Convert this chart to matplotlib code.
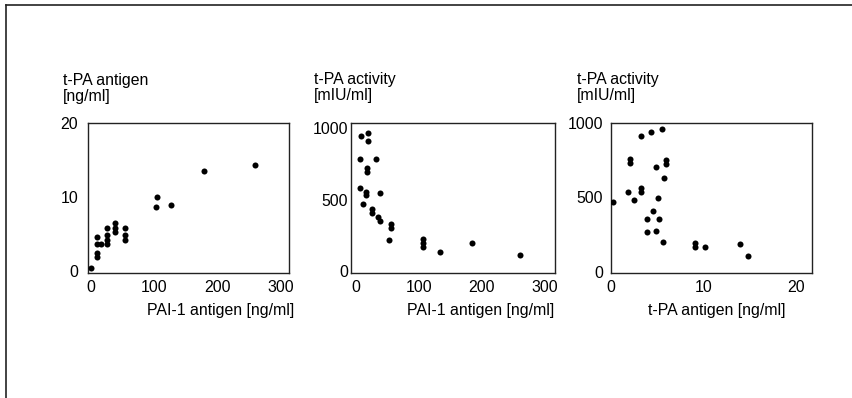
import matplotlib
matplotlib.use("Agg")
import matplotlib.pyplot as plt
from matplotlib.lines import Line2D

plt.rcParams['font.family'] = ['Liberation Sans', 'DejaVu Sans']
plt.rcParams['font.size'] = 11.4

# panel 1: PAI-1 antigen vs t-PA antigen
pai1_a = [0, 9.5, 9.5, 9.5, 9.5, 17, 25, 25, 25, 25, 38, 38, 38, 54, 54, 54,
          103, 105, 126, 179, 259]
tpa_ag_a = [0.4, 1.95, 2.5, 3.65, 4.6, 3.65, 5.85, 4.8, 4.2, 3.65, 6.45, 5.85, 5.3,
            5.85, 4.8, 4.15, 8.65, 10.0, 8.9, 13.5, 14.3]

# panel 2: PAI-1 antigen vs t-PA activity
pai1_b = [8, 19.5, 19.5, 6.5, 31.5, 17, 17, 6.5, 15.5, 15.5, 38, 10.5, 25, 25,
          34.5, 38, 55, 55, 52.5, 107, 107, 107, 133, 184, 260]
tpa_act_b = [944, 967, 909, 783, 783, 722, 694, 582, 555, 531, 548, 469, 434, 403,
             380, 350, 329, 298, 217, 224, 198, 170, 131, 196, 112]

# panel 3: t-PA antigen vs t-PA activity
tpa_ag_c = [0.2, 1.85, 2.05, 2.05, 2.5, 3.2, 3.2, 3.2, 3.85, 3.85, 4.35, 4.5, 4.85,
            4.85, 5.1, 5.2, 5.5, 5.65, 5.75, 5.9, 5.9, 9.05, 9.05, 10.2, 13.9, 14.8]
tpa_act_c = [471, 538, 758, 731, 482, 913, 565, 536, 354, 267, 940, 408, 704, 274,
             498, 354, 958, 200, 630, 753, 726, 193, 166, 166, 186, 106]

W, H = 852, 398
fig = plt.figure(figsize=(W / 100, H / 100), dpi=100)

def px(x, y):
    return x / W, 1 - y / H

panels = [
    dict(rect=(88, 289), x=pai1_a, y=tpa_ag_a, xlim=(-4.3, 313), ylim=(-0.27, 20),
         xt=[0, 100, 200, 300], yt=[0, 10, 20], ypad=7,
         ylab=("t-PA antigen", "[ng/ml]"), ylx=63, ylab_y=(85, 101),
         xlab="PAI-1 antigen [ng/ml]", xlx=147),
    dict(rect=(351, 555), x=pai1_b, y=tpa_act_b, xlim=(-7.9, 316), ylim=(-14, 1035),
         xt=[0, 100, 200, 300], yt=[0, 500, 1000], ypad=2,
         ylab=("t-PA activity", "[mIU/ml]"), ylx=314, ylab_y=(84, 100),
         xlab="PAI-1 antigen [ng/ml]", xlx=407),
    dict(rect=(611, 812), x=tpa_ag_c, y=tpa_act_c, xlim=(0.1, 21.7), ylim=(-8.7, 1000),
         xt=[0, 10, 20], yt=[0, 500, 1000], ypad=5.5,
         ylab=("t-PA activity", "[mIU/ml]"), ylx=577, ylab_y=(84, 100),
         xlab="t-PA antigen [ng/ml]", xlx=648),
]

top, bottom = 123, 273
for p in panels:
    l, r = p['rect']
    ax = fig.add_axes([l / W, 1 - bottom / H, (r - l) / W, (bottom - top) / H])
    ax.scatter(p['x'], p['y'], s=19, color='black', linewidths=0, zorder=3)
    ax.set_xlim(p['xlim'])
    ax.set_ylim(p['ylim'])
    ax.set_xticks(p['xt'])
    ax.set_yticks(p['yt'])
    ax.tick_params(axis='x', length=0, pad=5)
    ax.tick_params(axis='y', length=0, pad=p['ypad'])
    for s in ax.spines.values():
        s.set_linewidth(1.0)
        s.set_color('#222222')
    fig.text(*px(p['ylx'], p['ylab_y'][0]), p['ylab'][0], ha='left', va='baseline')
    fig.text(*px(p['ylx'], p['ylab_y'][1]), p['ylab'][1], ha='left', va='baseline')
    fig.text(*px(p['xlx'], 315.5), p['xlab'], ha='left', va='baseline')

# outer frame (top and left edges only)
fig.add_artist(Line2D([6 / W, 6 / W], [0, 1 - 5 / H], transform=fig.transFigure,
                      color='#222222', lw=1.2))
fig.add_artist(Line2D([6 / W, 1], [1 - 5 / H, 1 - 5 / H], transform=fig.transFigure,
                      color='#222222', lw=1.2))

fig.savefig("out.png", dpi=100)
